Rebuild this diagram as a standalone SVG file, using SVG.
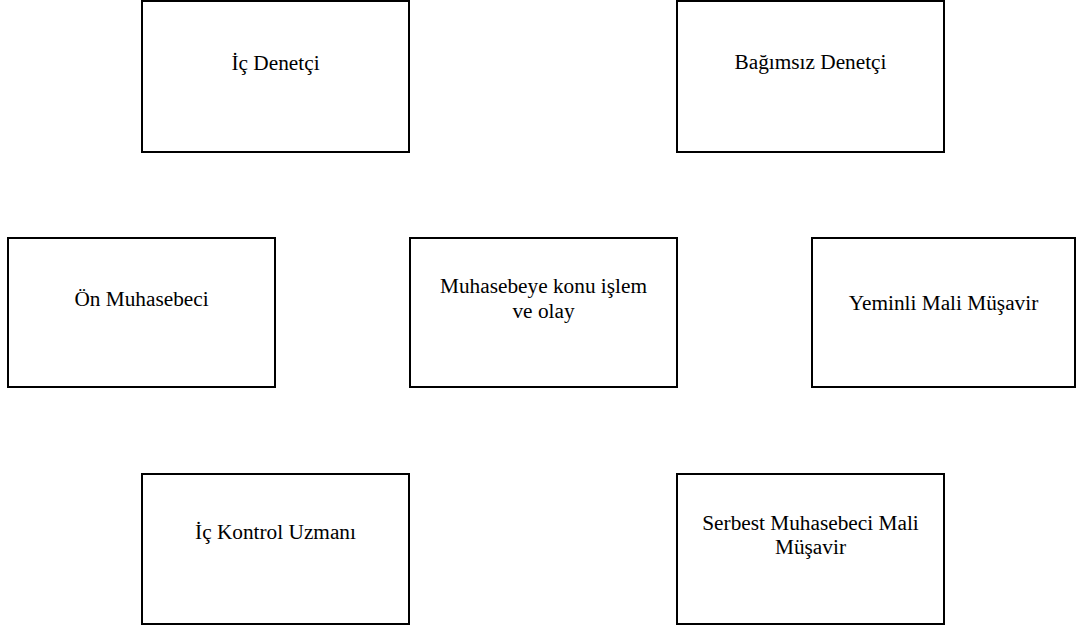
<svg xmlns="http://www.w3.org/2000/svg" width="1079" height="627" viewBox="0 0 1079 627">
<style>
.box{fill:#fff;stroke:#000;stroke-width:2}
.t{font-family:"Liberation Serif","Times New Roman",serif;font-size:21.3px;fill:#000;text-anchor:middle}
</style>
<rect x="0" y="0" width="1079" height="627" fill="#fff"/>
<g id="connectors"></g>
<g id="ic-denetci"><rect class="box" x="142" y="1" width="267" height="151"/><text class="t" x="275.5" y="70">İç Denetçi</text></g>
<g id="bagimsiz-denetci"><rect class="box" x="677" y="1" width="267" height="151"/><text class="t" x="810.5" y="69">Bağımsız Denetçi</text></g>
<g id="on-muhasebeci"><rect class="box" x="8" y="238" width="267" height="149"/><text class="t" x="141.5" y="306">Ön Muhasebeci</text></g>
<g id="muhasebeye-konu"><rect class="box" x="410" y="238" width="267" height="149"/><text class="t" x="543.5" y="293">Muhasebeye konu işlem</text><text class="t" x="543.5" y="318">ve olay</text></g>
<g id="yeminli"><rect class="box" x="812" y="238" width="263" height="149"/><text class="t" x="943.5" y="310">Yeminli Mali Müşavir</text></g>
<g id="ic-kontrol"><rect class="box" x="142" y="474" width="267" height="150"/><text class="t" x="275.5" y="539">İç Kontrol Uzmanı</text></g>
<g id="serbest"><rect class="box" x="677" y="474" width="267" height="150"/><text class="t" x="810.5" y="530">Serbest Muhasebeci Mali</text><text class="t" x="810.5" y="554">Müşavir</text></g>
</svg>
